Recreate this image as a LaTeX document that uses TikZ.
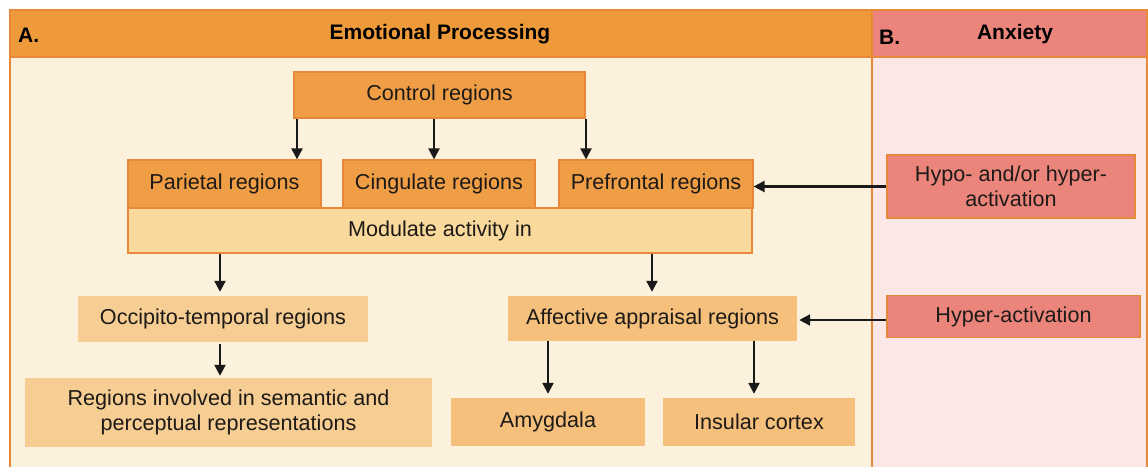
\documentclass[tikz,border=0pt]{standalone}
\usepackage{fontspec}
\setmainfont{Liberation Sans}
\usetikzlibrary{arrows.meta}
\definecolor{hdrorange}{HTML}{EF9A3A}
\definecolor{frameline}{HTML}{E8893A}
\definecolor{creamA}{HTML}{FCF1DC}
\definecolor{pinkB}{HTML}{FBE7E5}
\definecolor{salmon}{HTML}{EB857C}
\definecolor{boxorange}{HTML}{F09E45}
\definecolor{modfill}{HTML}{F9DA9C}
\definecolor{lightbox}{HTML}{F6CD92}
\definecolor{midbox}{HTML}{F4C07C}
\definecolor{txt}{HTML}{1E1A17}
\begin{document}
\begin{tikzpicture}[x=1pt,y=-1pt, font=\fontsize{21.6}{25.5}\selectfont, text=txt,
  base/.style={rectangle, inner sep=2pt, align=center},
  darkbox/.style={base, fill=boxorange, draw=frameline, line width=1.2pt},
  modbox/.style={base, fill=modfill, draw=frameline, line width=1.2pt},
  lightnode/.style={base, fill=lightbox},
  midnode/.style={base, fill=midbox},
  anxbox/.style={base, fill=salmon, draw=frameline, line width=1.2pt},
  hdr/.style={font=\fontsize{21}{25}\selectfont\bfseries, text=black, inner sep=0pt},
  arr/.style={-{Triangle[width=11pt,length=11pt]}, line width=2.2pt, draw=black!90},
  sz/.style 2 args={minimum width=#1, minimum height=#2}]
\useasboundingbox (0,0) rectangle (1148,466);
% panels
\fill[creamA] (10,10) rectangle (872,480);
\fill[pinkB] (872,10) rectangle (1147,480);
\fill[hdrorange] (10,10) rectangle (872,57);
\fill[salmon] (872,10) rectangle (1147,57);
\draw[frameline, line width=1.8pt] (10,480) -- (10,10) -- (1147,10) -- (1147,480);
\draw[frameline, line width=1.8pt] (872,10) -- (872,480);
\draw[frameline, line width=1.8pt] (10,57) -- (1147,57);
\node[hdr, anchor=west] (la) at (18,35) {A.};
\node[hdr] (ta) at (440,34) {Emotional Processing};
\node[hdr, anchor=west] (lb) at (879,37) {B.};
\node[hdr] (tb) at (1015,34) {Anxiety};
% boxes
\node[darkbox, sz={291pt}{46pt}] (ctrl) at (439.5,95) {Control regions};
\node[modbox, sz={624pt}{45pt}] (mod) at (440,230.5) {Modulate activity in};
\node[darkbox, sz={193pt}{48pt}] (par) at (224.5,184) {Parietal regions};
\node[darkbox, sz={192pt}{48pt}] (cing) at (439,184) {Cingulate regions};
\node[darkbox, sz={194pt}{48pt}] (pref) at (656,184) {Prefrontal regions};
\node[lightnode, sz={290pt}{46pt}] (occ) at (223,319) {Occipito-temporal regions};
\node[lightnode, sz={407pt}{69pt}] (sem) at (228.5,412.5) {Regions involved in semantic and\\perceptual representations};
\node[midnode, sz={289pt}{45pt}] (aff) at (652.5,318.5) {Affective appraisal regions};
\node[midnode, sz={194pt}{48pt}] (amy) at (548,422) {Amygdala};
\node[midnode, sz={192pt}{48pt}] (ins) at (759,422) {Insular cortex};
\node[anxbox, sz={248pt}{63pt}] (hypo) at (1011,186.5) {Hypo- and/or hyper-\\activation};
\node[anxbox, sz={253pt}{42pt}] (hyper) at (1013.5,316.5) {Hyper-activation};
% arrow columns
\coordinate (x1) at (297,0);
\coordinate (x2) at (434,0);
\coordinate (x3) at (586,0);
\coordinate (x4) at (220,0);
\coordinate (x5) at (652,0);
\coordinate (x6) at (548,0);
\coordinate (x7) at (754,0);
\coordinate (y1) at (0,320);
\draw[arr] (ctrl.south -| x1) -- (par.north -| x1);
\draw[arr] (ctrl.south -| x2) -- (cing.north -| x2);
\draw[arr] (ctrl.south -| x3) -- (pref.north -| x3);
\draw[arr] (mod.south -| x4) -- ([yshift=4pt]occ.north -| x4);
\draw[arr] (mod.south -| x5) -- ([yshift=4pt]aff.north -| x5);
\draw[arr] ([yshift=-2pt]occ.south -| x4) -- ([yshift=2pt]sem.north -| x4);
\draw[arr] (aff.south -| x6) -- ([yshift=4pt]amy.north -| x6);
\draw[arr] (aff.south -| x7) -- ([yshift=4pt]ins.north -| x7);
\draw[arr] (hypo.west) -- (pref.east |- hypo.west);
\draw[arr] (hyper.west |- y1) -- ([xshift=2pt]aff.east |- y1);
\end{tikzpicture}
\end{document}
